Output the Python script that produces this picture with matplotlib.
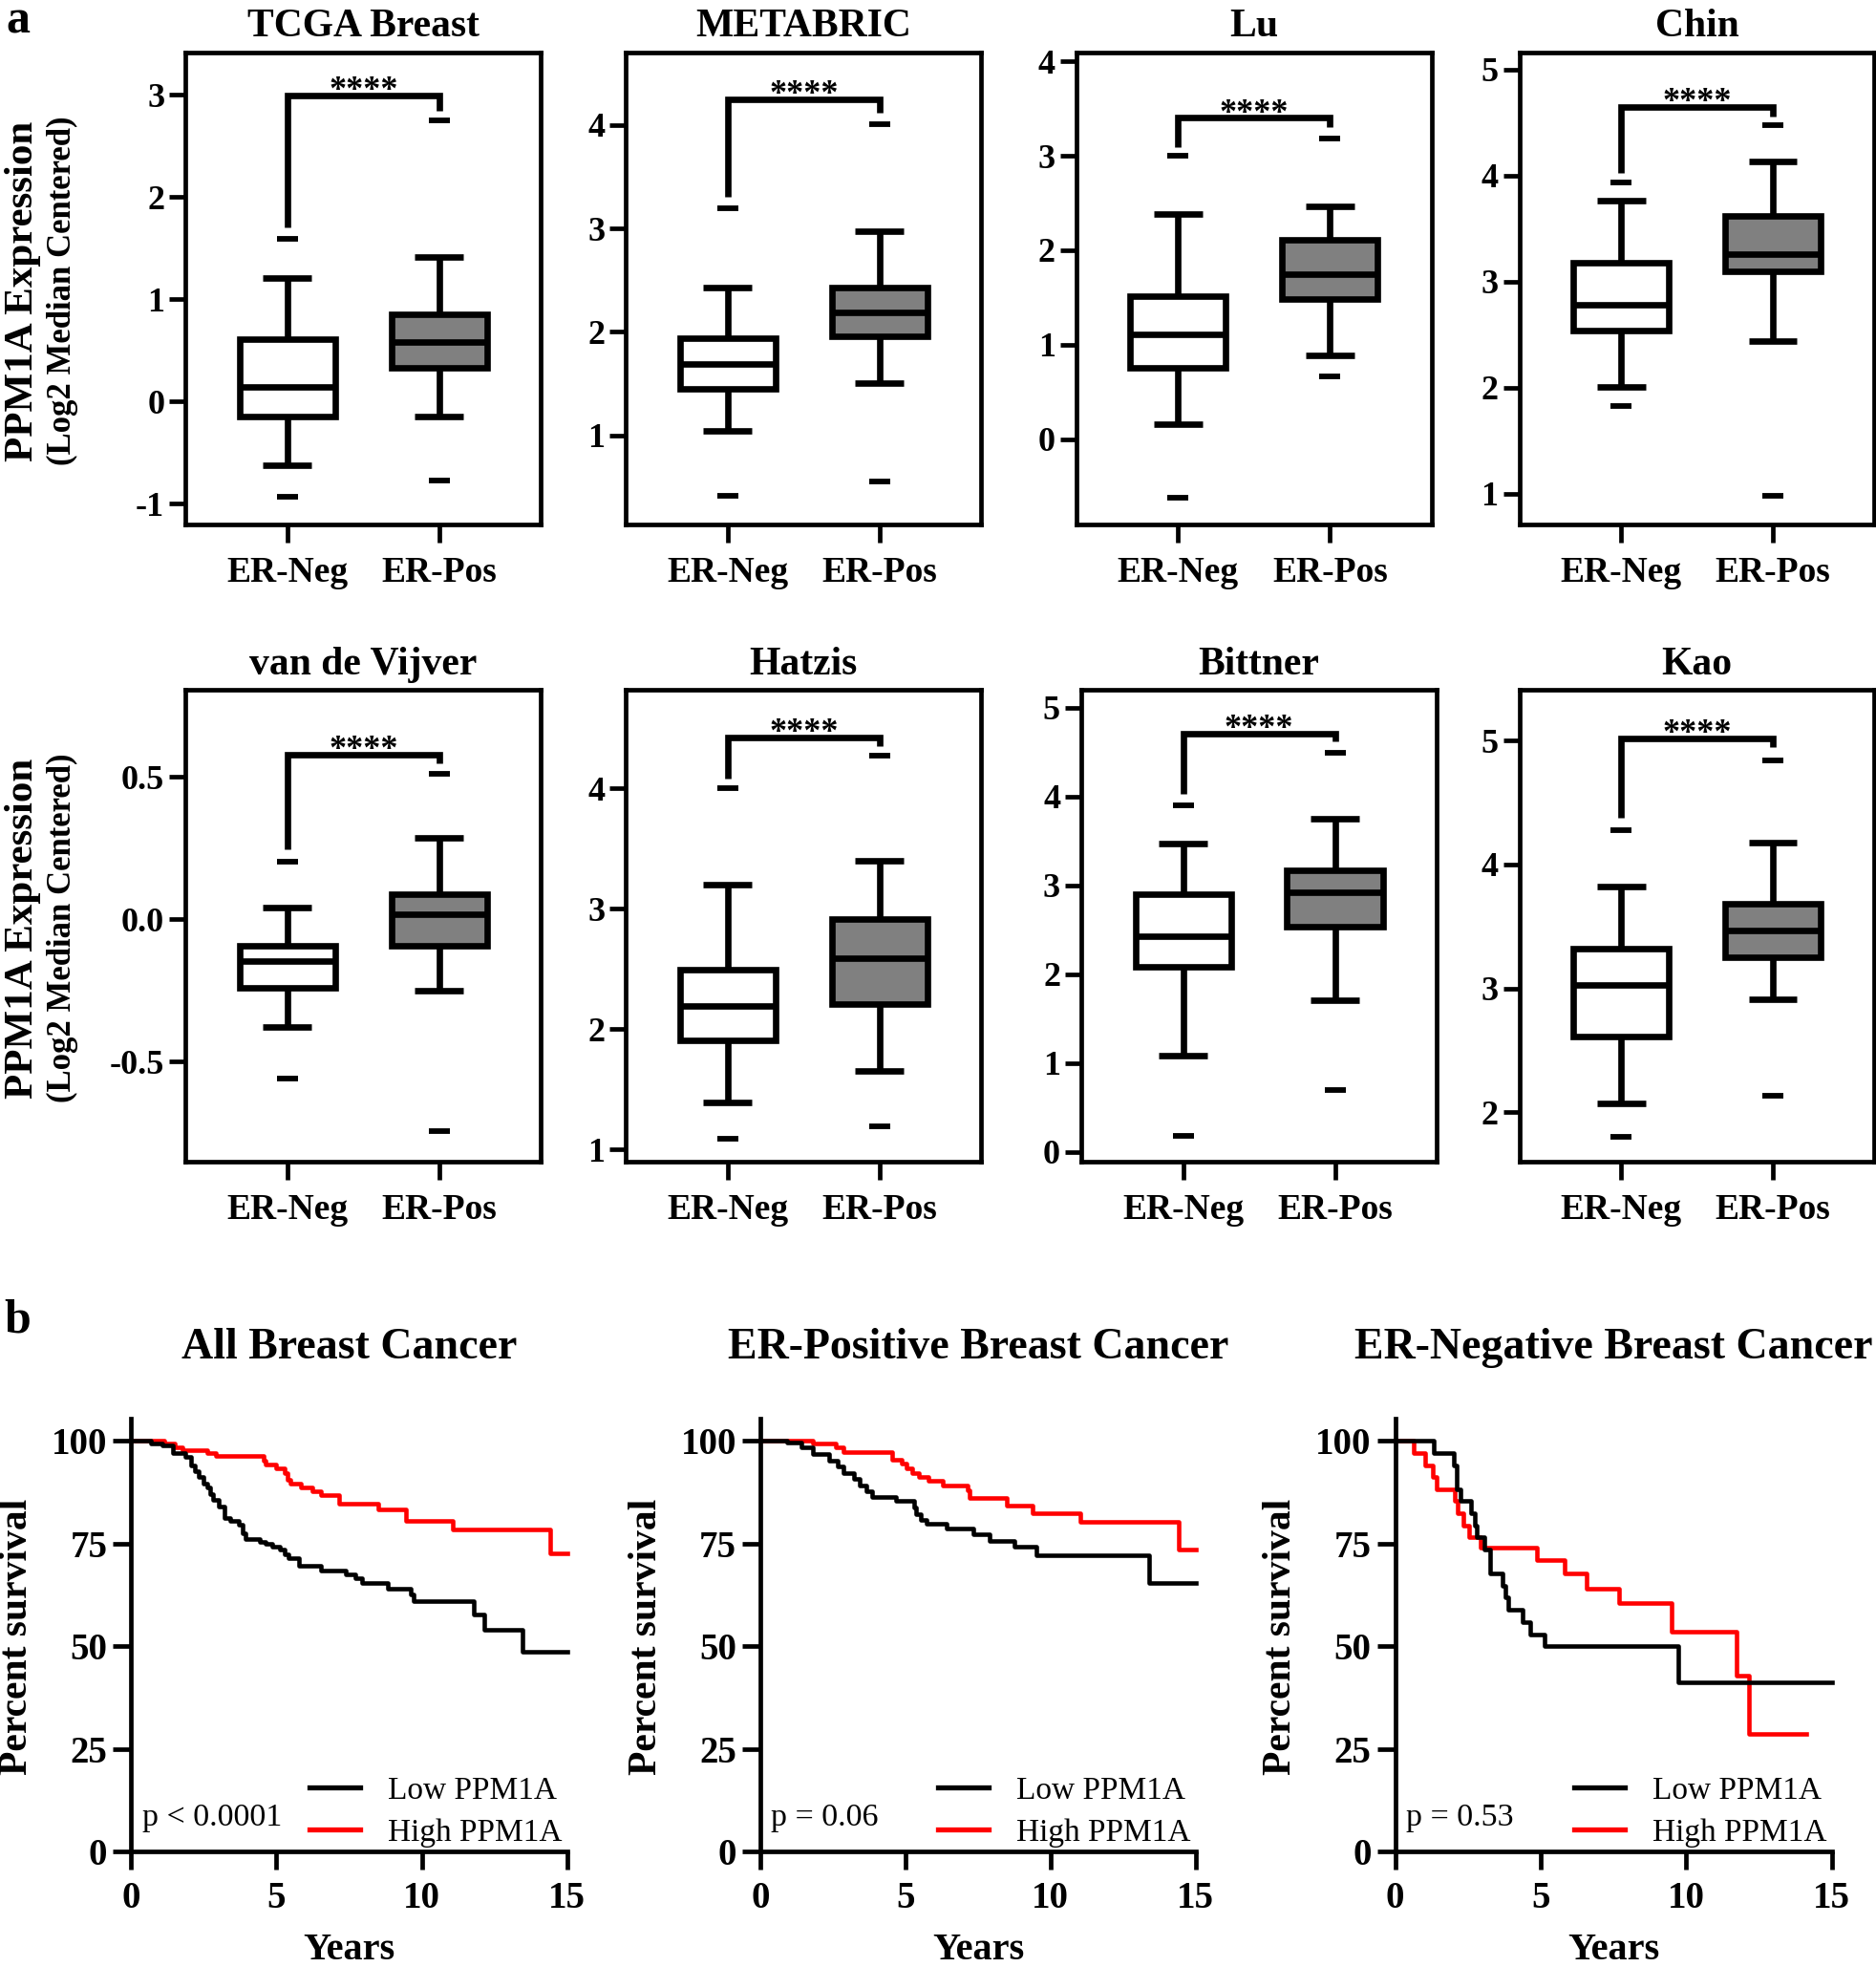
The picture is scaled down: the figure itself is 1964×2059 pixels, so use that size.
import matplotlib.pyplot as plt

plt.rcParams['font.family'] = 'Liberation Serif'
plt.rcParams['font.weight'] = 'bold'
plt.rcParams['axes.unicode_minus'] = False

# ---- panel a: box plots (min, whislo, q1, med, q3, whishi, max) ----
titles = ["TCGA Breast", "METABRIC", "Lu", "Chin",
          "van de Vijver", "Hatzis", "Bittner", "Kao"]
groups = ["ER-Neg", "ER-Pos"]

neg_stats = [
    [-0.93, -0.62, -0.15, 0.14, 0.61, 1.21, 1.59],
    [0.42, 1.04, 1.45, 1.69, 1.94, 2.43, 3.20],
    [-0.62, 0.16, 0.76, 1.11, 1.51, 2.38, 3.00],
    [1.83, 2.01, 2.54, 2.78, 3.18, 3.76, 3.94],
    [-0.56, -0.38, -0.24, -0.146, -0.094, 0.04, 0.20],
    [1.09, 1.39, 1.91, 2.19, 2.49, 3.20, 4.00],
    [0.18, 1.08, 2.08, 2.43, 2.90, 3.47, 3.90],
    [1.80, 2.07, 2.61, 3.03, 3.32, 3.82, 4.28],
]
pos_stats = [
    [-0.77, -0.15, 0.33, 0.58, 0.85, 1.41, 2.75],
    [0.55, 1.51, 1.96, 2.19, 2.43, 2.97, 4.01],
    [0.67, 0.89, 1.48, 1.75, 2.11, 2.46, 3.18],
    [0.98, 2.44, 3.10, 3.26, 3.62, 4.13, 4.48],
    [-0.746, -0.25, -0.094, 0.018, 0.089, 0.286, 0.51],
    [1.19, 1.65, 2.21, 2.59, 2.91, 3.40, 4.27],
    [0.70, 1.71, 2.53, 2.92, 3.17, 3.75, 4.49],
    [2.13, 2.91, 3.25, 3.47, 3.68, 4.18, 4.84],
]
# significance bracket: (left arm bottom, top, right arm bottom)
brackets = [
    (1.70, 2.99, 2.84), (3.31, 4.25, 4.12), (3.09, 3.40, 3.30), (4.03, 4.65, 4.56),
    (0.244, 0.577, 0.546), (4.08, 4.42, 4.35), (4.03, 4.71, 4.62), (4.38, 5.02, 4.95),
]
ylims = [(-1.2, 3.41), (0.14, 4.7), (-0.9, 4.09), (0.71, 5.16),
         (-0.852, 0.805), (0.9, 4.815), (-0.11, 5.2), (1.6, 5.41)]
yticks = [[-1, 0, 1, 2, 3], [1, 2, 3, 4], [0, 1, 2, 3, 4], [1, 2, 3, 4, 5],
          [-0.5, 0.0, 0.5], [1, 2, 3, 4], [0, 1, 2, 3, 4, 5], [2, 3, 4, 5]]

# ---- panel b: Kaplan-Meier curves (years, percent survival) ----
km_titles = ["All Breast Cancer", "ER-Positive Breast Cancer", "ER-Negative Breast Cancer"]
p_texts = ["p < 0.0001", "p = 0.06", "p = 0.53"]

all_low_t = [0, 0.69, 1.08, 1.43, 1.85, 2.06, 2.20, 2.34, 2.48, 2.62, 2.71, 2.83, 3.03, 3.22,
             3.41, 3.71, 3.83, 3.92, 4.43, 4.64, 4.85, 5.13, 5.27, 5.41, 5.76, 6.53, 7.37,
             7.72, 7.93, 8.84, 9.61, 9.72, 11.78, 12.15, 13.45, 15.0]
all_low_s = [100, 99.3, 98.8, 97.0, 96.0, 94.0, 92.6, 91.1, 89.6, 88.6, 87.1, 85.6, 84.1, 81.1,
             80.4, 79.6, 77.5, 76.0, 75.5, 75.0, 74.3, 73.5, 72.3, 71.5, 69.5, 68.5, 67.5,
             66.5, 65.5, 63.9, 62.6, 60.9, 57.6, 54.1, 48.6, 48.6]
all_high_t = [0, 1.15, 1.50, 1.75, 2.62, 2.90, 4.55, 4.64, 4.99, 5.27, 5.38, 5.48, 5.83, 6.25,
              6.53, 7.16, 8.49, 9.47, 11.08, 14.43, 15.0]
all_high_s = [100, 99.4, 98.5, 97.7, 96.9, 96.2, 95.2, 94.2, 93.2, 92.1, 90.6, 89.6, 88.6, 87.6,
              86.8, 84.8, 83.4, 80.6, 78.5, 72.7, 72.7]

erp_low_t = [0, 0.91, 1.40, 1.82, 2.38, 2.66, 2.87, 3.22, 3.43, 3.64, 3.85, 4.69, 5.31, 5.38,
             5.52, 5.73, 6.43, 7.34, 7.90, 8.74, 9.51, 13.40, 15.0]
erp_low_s = [100, 99.5, 98.5, 96.7, 95.2, 93.7, 92.2, 90.7, 89.2, 87.7, 86.2, 85.3, 83.8, 82.2,
             80.7, 79.7, 78.7, 77.2, 75.7, 74.2, 72.2, 65.5, 65.5]
erp_high_t = [0, 1.82, 2.59, 2.87, 4.55, 4.87, 5.03, 5.24, 5.45, 5.80, 6.29, 7.13, 7.20, 8.50,
              9.37, 11.02, 14.41, 15.0]
erp_high_s = [100, 99.3, 98.5, 97.2, 95.5, 94.5, 93.2, 92.2, 91.2, 90.2, 89.1, 88.0, 86.1, 84.2,
              82.3, 80.3, 73.5, 73.5]

ern_low_t = [0, 1.34, 2.01, 2.12, 2.23, 2.60, 2.74, 2.80, 3.08, 3.26, 3.69, 3.80, 3.90, 4.38,
             4.65, 5.13, 9.71, 15.0]
ern_low_s = [100, 97.1, 94.1, 88.2, 85.3, 82.4, 79.4, 76.5, 73.5, 67.6, 64.7, 61.8, 58.8, 55.9,
             52.9, 50.0, 41.2, 41.2]
ern_high_t = [0, 0.62, 1.03, 1.30, 1.44, 2.05, 2.15, 2.33, 2.53, 2.94, 4.86, 5.81, 6.57, 7.70,
              9.51, 11.74, 12.15, 14.12]
ern_high_s = [100, 97.1, 94.1, 91.2, 88.2, 85.3, 82.4, 79.4, 76.5, 74.0, 71.0, 67.6, 64.0, 60.4,
              53.6, 42.9, 28.7, 28.7]

km_low = [(all_low_t, all_low_s), (erp_low_t, erp_low_s), (ern_low_t, ern_low_s)]
km_high = [(all_high_t, all_high_s), (erp_high_t, erp_high_s), (ern_high_t, ern_high_s)]

# ---- layout (reference pixel grid) ----
W, H = 1496, 1568
fig = plt.figure(figsize=(19.65, 20.59), dpi=100)


def px_axes(l, t, r, b):
    return fig.add_axes([l / W, 1 - b / H, (r - l) / W, (b - t) / H])


box_lefts = [148, 499, 858, 1211, 148, 499, 862, 1211]
box_tops = [42, 42, 42, 42, 550, 550, 550, 550]
bw = 283
bh = 376
LW = 4.8

for i in range(8):
    ax = px_axes(box_lefts[i], box_tops[i], box_lefts[i] + bw, box_tops[i] + bh)
    stats = []
    for row in (neg_stats[i], pos_stats[i]):
        stats.append(dict(whislo=row[1], q1=row[2], med=row[3], q3=row[4],
                          whishi=row[5], fliers=[row[0], row[6]]))
    res = ax.bxp(stats, positions=[0, 1], widths=0.63, capwidths=0.32, patch_artist=True,
                 boxprops=dict(lw=LW, edgecolor='black'),
                 medianprops=dict(color='black', lw=LW, solid_capstyle='butt'),
                 whiskerprops=dict(color='black', lw=LW, solid_capstyle='butt'),
                 capprops=dict(color='black', lw=LW, solid_capstyle='butt'),
                 flierprops=dict(marker='_', markersize=16, markeredgewidth=4.2,
                                 markeredgecolor='black'))
    res['boxes'][0].set_facecolor('white')
    res['boxes'][1].set_facecolor('#808080')

    lo_n, top, lo_p = brackets[i]
    ax.plot([0, 0, 1, 1], [lo_n, top, top, lo_p], color='black', lw=LW,
            solid_joinstyle='miter', solid_capstyle='butt')
    ax.annotate('****', (0.5, top), xytext=(0, -3), textcoords='offset points',
                ha='center', va='baseline', fontsize=26, fontweight='bold')

    ax.set_xlim(-0.67, 1.67)
    ax.set_ylim(*ylims[i])
    ax.set_xticks([0, 1])
    ax.set_xticklabels(groups)
    ax.set_yticks(yticks[i])
    if i == 4:
        ax.set_yticklabels(['-0.5', '0.0', '0.5'])
    for s in ax.spines.values():
        s.set_linewidth(3.4)
    ax.tick_params(axis='y', direction='out', length=12, width=3.4, labelsize=26, pad=4)
    ax.tick_params(axis='x', direction='out', length=14, width=3.4, labelsize=27, pad=10)
    ax.set_title(titles[i], fontsize=30, fontweight='bold', pad=12)

for yc in (232, 740):
    fig.text(18 / W, 1 - yc / H, 'PPM1A Expression', rotation=90, ha='center', va='center',
             fontsize=31, fontweight='bold')
    fig.text(50 / W, 1 - yc / H, '(Log2 Median Centered)', rotation=90, ha='center',
             va='center', fontsize=25, fontweight='bold')

fig.text(14 / W, 1 - 17 / H, 'a', ha='center', va='center', fontsize=36, fontweight='bold')
fig.text(14 / W, 1 - 1053 / H, 'b', ha='center', va='center', fontsize=36, fontweight='bold')

km_x0 = [104.5, 606, 1112]
km_x1 = [452, 953, 1460]
km_y0 = 1476
km_h = 345.5

for j in range(3):
    ax = px_axes(km_x0[j], km_y0 - km_h, km_x1[j], km_y0)
    t, s = km_high[j]
    ax.step(t, s, where='post', color='#ff0000', lw=3.3, clip_on=False, label='High PPM1A')
    t, s = km_low[j]
    ax.step(t, s, where='post', color='black', lw=3.3, clip_on=False, label='Low PPM1A')
    ax.set_xlim(0, 15)
    ax.set_ylim(0, 105.5)
    ax.set_xticks([0, 5, 10, 15])
    ax.set_yticks([0, 25, 50, 75, 100])
    ax.spines['top'].set_visible(False)
    ax.spines['right'].set_visible(False)
    ax.spines['left'].set_linewidth(3.4)
    ax.spines['bottom'].set_linewidth(3.4)
    ax.tick_params(direction='out', length=14, width=3.4, labelsize=28)
    ax.tick_params(axis='x', pad=8)
    ax.tick_params(axis='y', pad=4)
    ax.set_title(km_titles[j], fontsize=33, fontweight='bold', pad=45)
    ax.text(-0.262, 0.495, 'Percent survival', rotation=90, transform=ax.transAxes,
            ha='center', va='center', fontsize=30, fontweight='bold')
    ax.text(0.5, -0.249, 'Years', transform=ax.transAxes, ha='center', va='baseline',
            fontsize=29, fontweight='bold')
    ax.text(0.025, 0.078, p_texts[j], transform=ax.transAxes, ha='left', va='center',
            fontsize=24.5, fontweight='normal')
    handles, labels = ax.get_legend_handles_labels()
    leg = ax.legend(handles[::-1], labels[::-1], loc='lower right', bbox_to_anchor=(0.988, 0.01),
                    frameon=False, prop=dict(family='Liberation Serif', size=24, weight='normal'),
                    handlelength=1.6, handletextpad=0.85, labelspacing=0.4, borderpad=0,
                    borderaxespad=0)
    for ln in leg.get_lines():
        ln.set_linewidth(3.8)

fig.savefig('out.png', dpi=100)
